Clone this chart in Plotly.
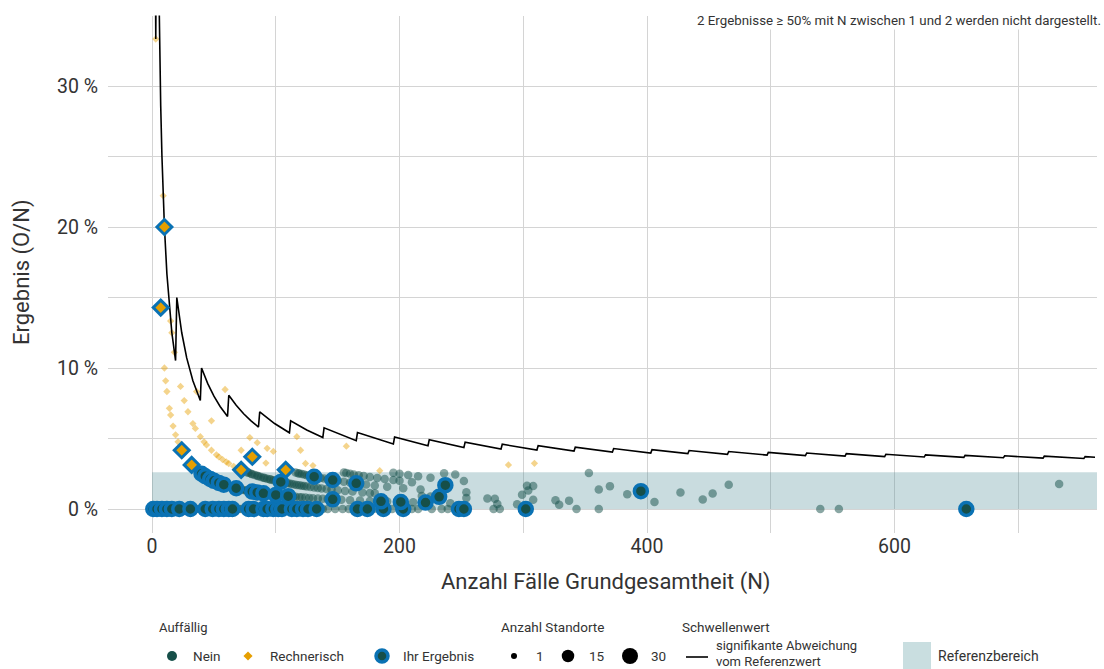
import plotly.graph_objects as go

# ---------------- data (N = Fälle Grundgesamtheit, O = beobachtete Ereignisse) ----------------
# Auffällig: Nein (alle Standorte)
nein_N = [2, 3, 6, 7, 10, 11, 14, 15, 18, 20, 24, 26, 28, 35, 38, 46, 56, 66, 70, 72, 75, 85, 88, 96,
          110, 115, 120, 130, 138, 142, 148, 154, 159, 179, 194, 210, 215, 226, 234, 239, 276, 281,
          343, 361, 540, 555,
          39, 41, 42, 45, 46, 49, 51, 53, 56, 57, 60, 61, 63, 64, 66, 67, 69, 71, 72, 74, 76, 77, 79,
          80, 83, 84, 86, 87, 88, 91, 93, 95, 96, 99, 101, 103, 106, 108, 111, 114, 116, 119, 121, 124,
          127, 130, 134, 138, 142, 148, 153, 160, 168, 176, 190, 211, 241, 279, 295, 329,
          77, 78, 80, 81, 83, 85, 86, 88, 90, 91, 93, 95, 96, 98, 100, 102, 103, 105, 107, 109, 111,
          113, 115, 117, 119, 121, 123, 125, 128, 131, 134, 137, 141, 145, 150, 156, 162, 170, 176,
          180, 218, 225, 230, 254, 271, 277, 308, 326, 337, 406,
          116, 118, 119, 121, 123, 125, 127, 129, 131, 133, 136, 139, 142, 146, 150, 155, 160, 166,
          173, 180, 190, 203, 217, 254, 299, 445,
          155, 157, 160, 163, 167, 171, 176, 182, 188, 195, 200, 210, 304, 384,
          195, 200, 207, 215, 225, 252, 303, 308, 361, 427, 453,
          236, 245, 370, 466, 353, 733]
nein_O = [0] * 46 + [1] * 60 + [2] * 50 + [3] * 26 + [4] * 14 + [5] * 11 + [6, 6, 6, 8, 9, 13]

# Auffällig: Rechnerisch (alle Standorte)
rech_N = [3, 9, 15, 16, 18, 10, 11, 12, 14, 15, 17, 19, 21, 23, 26, 29, 33, 35, 36, 39, 42, 44, 48,
          52, 54, 57, 60, 62, 66, 59, 48, 72, 79, 85, 93, 98, 92, 117, 120, 124, 130, 157, 184, 288, 309]
rech_O = [1, 2, 2, 2, 2, 1, 1, 1, 1, 1, 1, 1, 1, 2, 2, 2, 2, 2, 3, 2, 2, 2, 2,
          2, 2, 2, 2, 2, 2, 5, 3, 3, 4, 4, 4, 4, 3, 6, 5, 4, 4, 7, 5, 9, 10]

# Ihr Ergebnis (eigene Standorte)
ihr_nein_N = [1, 4, 8, 12, 16, 22, 31, 43, 49, 54, 58, 62, 65, 78, 82, 90, 93, 98, 102, 105, 113, 117,
              122, 126, 133, 166, 174, 187, 203, 248, 252, 302, 658,
              40, 43, 47, 50, 54, 58, 68, 81, 85, 90, 100, 104, 110, 131, 146, 146, 165, 185, 201,
              221, 232, 237, 395]
ihr_nein_O = [0] * 33 + [1, 1, 1, 1, 1, 1, 1, 1, 1, 1, 1, 2, 1, 3, 3, 1, 3, 1, 1, 1, 2, 4, 5]
ihr_rech_N = [7, 10, 24, 32, 72, 81, 108]
ihr_rech_O = [1, 2, 1, 1, 2, 3, 3]

# Schwellenwert (signifikante Abweichung vom Referenzwert): kritische Anzahl O je N
schwelle_N = [1, 2, 3, 4, 5, 6, 7, 8, 10, 12, 14, 16, 19, 20, 24, 28, 33, 39, 40, 45, 50, 55, 61,
              62, 68, 74, 80, 86, 87, 99, 111, 112, 125, 138, 139, 165, 166, 195, 196, 223, 224, 252,
              253, 282, 283, 311, 312, 341, 342, 372, 373, 403, 404, 433, 434, 465, 466, 497, 498,
              528, 529, 560, 561, 592, 593, 624, 625, 656, 657, 688, 689, 720, 721, 753, 754, 762]
schwelle_O = [1, 1, 1, 2, 2, 2, 2, 2, 2, 2, 2, 2, 2, 3, 3, 3, 3, 3, 4, 4, 4, 4, 4,
              5, 5, 5, 5, 5, 6, 6, 6, 7, 7, 7, 8, 8, 9, 9, 10, 10, 11, 11,
              12, 12, 13, 13, 14, 14, 15, 15, 16, 16, 17, 17, 18, 18, 19, 19, 20,
              20, 21, 21, 22, 22, 23, 23, 24, 24, 25, 25, 26, 26, 27, 27, 28, 28]

referenz_max = 2.6          # Referenzbereich 0 % bis 2.6 %
referenz_N = [0, 763.6]

x_ticks = [0, 200, 400, 600]
y_ticks = [0, 10, 20, 30]
y_ticktext = ["0 %", "10 %", "20 %", "30 %"]

# ---------------- styling ----------------
FONT = "Roboto"
TXT = "#333333"
GRID = "#d4d4d4"
TEAL = "#164f49"
TEAL_A = "rgba(22,79,73,0.5)"
ORANGE = "#e69f00"
ORANGE_A = "rgba(230,159,0,0.45)"
BLUE = "#0a72b4"
BAND = "rgba(76,140,150,0.3)"


def pct(O, N):
    return [100.0 * o / n for o, n in zip(O, N)]


fig = go.Figure()

fig.add_trace(go.Scatter(x=nein_N, y=pct(nein_O, nein_N), mode="markers",
                         marker=dict(size=8.5, color=TEAL_A, line=dict(width=0)),
                         showlegend=False, hoverinfo="skip"))
fig.add_trace(go.Scatter(x=rech_N, y=pct(rech_O, rech_N), mode="markers",
                         marker=dict(size=5.6, symbol="diamond", color=ORANGE_A, line=dict(width=0)),
                         showlegend=False, hoverinfo="skip"))
fig.add_trace(go.Scatter(x=schwelle_N, y=pct(schwelle_O, schwelle_N), mode="lines",
                         line=dict(color="black", width=1.6), showlegend=False, hoverinfo="skip"))
fig.add_trace(go.Scatter(x=ihr_nein_N, y=pct(ihr_nein_O, ihr_nein_N), mode="markers",
                         marker=dict(size=13, color=TEAL, line=dict(width=3.5, color=BLUE)),
                         showlegend=False, hoverinfo="skip"))
fig.add_trace(go.Scatter(x=ihr_rech_N, y=pct(ihr_rech_O, ihr_rech_N), mode="markers",
                         marker=dict(size=11.5, symbol="diamond", color=ORANGE,
                                     line=dict(width=3, color=BLUE)),
                         showlegend=False, hoverinfo="skip"))

# reference band
fig.add_shape(type="rect", xref="x", yref="y", x0=referenz_N[0], x1=referenz_N[1],
              y0=0, y1=referenz_max, fillcolor=BAND, line=dict(width=0), layer="between")

W, H = 1104, 669
P_L, P_R, P_T, P_B = 108, 1097, 15.5, 532.5

fig.update_layout(
    width=W, height=H, margin=dict(l=0, r=0, t=0, b=0),
    plot_bgcolor="white", paper_bgcolor="white",
    font=dict(family=FONT, color=TXT),
    xaxis=dict(domain=[P_L / W, P_R / W], range=[-35.6, 763.6],
               tickvals=x_ticks, ticktext=[str(v) for v in x_ticks],
               tickfont=dict(size=19.5, color=TXT), ticks="", showline=False, zeroline=False,
               showgrid=True, gridcolor=GRID, gridwidth=1.3,
               minor=dict(tickvals=[100, 300, 500, 700], showgrid=True, gridcolor=GRID, gridwidth=1.3),
               anchor="y", fixedrange=True),
    yaxis=dict(domain=[(H - P_B) / H, (H - P_T) / H], range=[-1.667, 35.0],
               tickvals=y_ticks, ticktext=y_ticktext, ticklabelstandoff=9,
               tickfont=dict(size=19.5, color=TXT), ticks="", showline=False, zeroline=False,
               showgrid=True, gridcolor=GRID, gridwidth=1.3,
               minor=dict(tickvals=[5, 15, 25], showgrid=True, gridcolor=GRID, gridwidth=1.3),
               anchor="x", fixedrange=True),
    xaxis2=dict(domain=[0, 1], range=[0, W], visible=False, anchor="y2", fixedrange=True),
    yaxis2=dict(domain=[0, 64 / H], range=[H, H - 64], visible=False, anchor="x2", fixedrange=True),
)

# axis titles & caption
fig.add_annotation(text="Anzahl Fälle Grundgesamtheit (N)", xref="paper", yref="paper",
                   x=606 / W, y=1 - 582 / H, xanchor="center", yanchor="middle",
                   showarrow=False, font=dict(size=22, color=TXT))
fig.add_annotation(text="Ergebnis (O/N)", xref="paper", yref="paper", textangle=-90,
                   x=22 / W, y=1 - 272 / H, xanchor="center", yanchor="middle",
                   showarrow=False, font=dict(size=22, color=TXT))
fig.add_annotation(text="2 Ergebnisse ≥ 50% mit N zwischen 1 und 2 werden nicht dargestellt.",
                   xref="paper", yref="paper", x=1103 / W, y=1 - 21 / H, xanchor="right",
                   yanchor="middle", showarrow=False, bgcolor="white", borderpad=1,
                   font=dict(size=13.3, color=TXT))

# ---------------- legend (drawn in pixel coordinates on x2/y2) ----------------
LY = 656
TY = 627


def leg_text(txt, x, y, size=13.5, anchor="left", pad=1):
    fig.add_annotation(text=txt, xref="x2", yref="y2", x=x, y=y, xanchor=anchor, yanchor="middle",
                       showarrow=False, font=dict(size=size, color=TXT), align="left",
                       borderpad=pad)


leg_text("Auffällig", 157, TY, 13)
leg_text("Anzahl Standorte", 499, TY, 13.5)
leg_text("Schwellenwert", 680, TY, 13.5)

fig.add_trace(go.Scatter(x=[172], y=[LY], xaxis="x2", yaxis="y2", mode="markers",
                         marker=dict(size=10, color=TEAL), showlegend=False, hoverinfo="skip"))
leg_text("Nein", 191, LY)
fig.add_trace(go.Scatter(x=[248], y=[LY], xaxis="x2", yaxis="y2", mode="markers",
                         marker=dict(size=7, symbol="diamond", color=ORANGE),
                         showlegend=False, hoverinfo="skip"))
leg_text("Rechnerisch", 268, LY)
fig.add_trace(go.Scatter(x=[382], y=[LY], xaxis="x2", yaxis="y2", mode="markers",
                         marker=dict(size=12, color=TEAL, line=dict(width=3.5, color=BLUE)),
                         showlegend=False, hoverinfo="skip"))
leg_text("Ihr Ergebnis", 401, LY)

for xs, sz, lab, xt in [(514, 6, "1", 534), (568, 12.5, "15", 587), (630, 16, "30", 649)]:
    fig.add_trace(go.Scatter(x=[xs], y=[LY], xaxis="x2", yaxis="y2", mode="markers",
                             marker=dict(size=sz, color="black"), showlegend=False, hoverinfo="skip"))
    leg_text(lab, xt, LY)

fig.add_trace(go.Scatter(x=[686, 708], y=[LY + 1, LY + 1], xaxis="x2", yaxis="y2", mode="lines",
                         line=dict(color="black", width=1.6), showlegend=False, hoverinfo="skip"))
leg_text("signifikante Abweichung", 715, 645.5, 13, pad=0)
leg_text("vom Referenzwert", 715, 661, 13, pad=0)
fig.add_shape(type="rect", xref="x2", yref="y2", x0=903, x1=931, y0=642, y1=669,
              fillcolor="#c9dee0", line=dict(width=0))
leg_text("Referenzbereich", 936, LY, 14)

fig.write_html("out.html", config={"displayModeBar": False},
               post_script="document.body.style.margin='0';document.body.style.overflow='hidden';")
